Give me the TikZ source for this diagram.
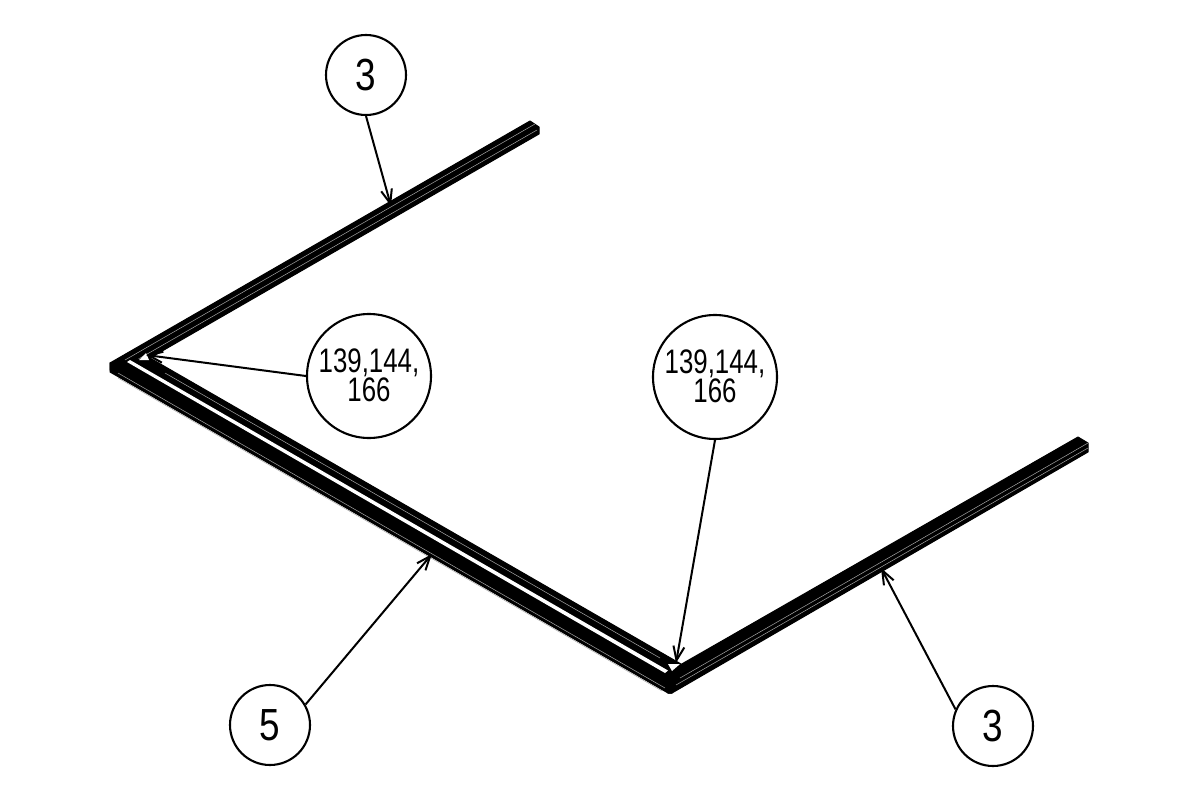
\documentclass[tikz,border=0pt]{standalone}
\usepackage{fontspec}
\setmainfont[FakeStretch=0.76]{Liberation Sans}
\newfontfamily\widedigit[FakeStretch=0.82]{Liberation Sans}
\usetikzlibrary{arrows.meta}
\newcommand{\lift}[1]{\raisebox{2pt}{#1}}
\tikzset{
 x=1pt,y=-1pt,
 balloon/.style={draw=black,line width=2.1pt,circle,inner sep=0pt,fill=white,align=center},
 small/.style={balloon,minimum size=80pt,font=\widedigit\fontsize{45}{45}\selectfont},
 big/.style={balloon,minimum size=124pt,font=\fontsize{34}{29}\selectfont},
 leader/.style={draw=black,line width=2pt,-{Straight Barb[length=14pt,width=11pt,line width=2pt]}},
 beam/.style={fill=black,draw=black,line width=1pt,line join=round},
 hl/.style={draw=gray!70,line width=.5pt},
 hole/.style={fill=white,draw=none}
}
\begin{document}
\begin{tikzpicture}
\useasboundingbox (0,0) rectangle (1200,800);
% left beam
\path[beam] (110,363) -- (530,121) -- (539,127) -- (539,134) -- (150,358) -- (125,372) -- (110,370) -- cycle;
\draw[hl] (125,360) -- (535,124);
\draw[hl] (135,361) -- (537,130);
% middle beam
\path[beam] (110,363) -- (150,358) -- (681,664) -- (672,693) -- (668,693) -- (110,372) -- cycle;
\draw[hl] (118,373) -- (665,688);
\draw[hl] (118,378) -- (662,691);
\draw[hl] (165,373) -- (660,658);
% right beam
\path[beam] (668,693) -- (664,680) -- (680,665) -- (1078,437) -- (1088,443) -- (1088,452) -- (672,693) -- cycle;
\draw[hl] (680,678) -- (1088,443);
\draw[hl] (676,685) -- (1088,448);
% white gaps
\path[hole] (127,362) -- (130,360) -- (668,670.5) -- (665,673) -- cycle;
\path[hole] (139,360) -- (146,353) -- (149,360) -- cycle;
\path[hole] (668,664) -- (680,664) -- (672,671) -- cycle;
% balloons
\node[small] (a) at (366,75) {3};
\node[big] (b) at (369,376) {\lift{139,144,}\\\lift{166}};
\node[big] (c) at (715,377) {\lift{139,144,}\\\lift{166}};
\node[small] (d) at (270,725) {5};
\node[small] (e) at (993,726) {3};
\coordinate (ta) at (391,206);
\coordinate (tb) at (146,355);
\coordinate (tc) at (676,663);
\coordinate (td) at (432,554);
\coordinate (te) at (881,568);
\draw[leader] (a.270) -- (ta);
\draw[leader] (b.180) -- (tb);
\draw[leader] (c.270) -- (tc);
\draw[leader] (d.30) -- (td);
\draw[leader] (e.156) -- (te);
\end{tikzpicture}
\end{document}
